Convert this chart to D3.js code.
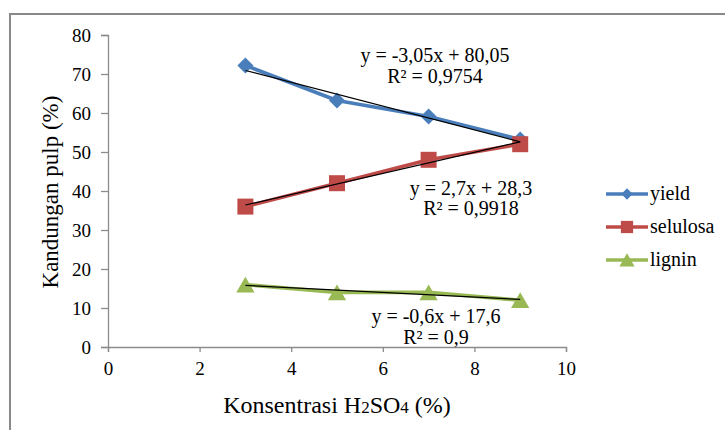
<!DOCTYPE html>
<html><head><meta charset="utf-8">
<script src="https://cdn.jsdelivr.net/npm/d3@7"></script>
<style>body{margin:0;background:#fff}svg{display:block}text{font-family:"Liberation Serif","Times New Roman",serif}</style>
</head><body><svg id="c" width="725" height="430"></svg>
<script>
const xValues = [3, 5, 7, 9];
const yieldValues = [72.2, 63.2, 59.1, 53.2];
const selulosaValues = [36, 42, 48, 52];
const ligninValues = [16, 14, 14, 12];
const seriesNames = ["yield", "selulosa", "lignin"];
const trendSlopes = [-3.05, 2.7, -0.6];
const trendIntercepts = [80.05, 28.3, 17.6];
const equationLabels = ["y = -3,05x + 80,05", "y = 2,7x + 28,3", "y = -0,6x + 17,6"];
const r2Labels = ["R² = 0,9754", "R² = 0,9918", "R² = 0,9"];
const xTicks = [0, 2, 4, 6, 8, 10];
const yTicks = [0, 10, 20, 30, 40, 50, 60, 70, 80];

const svg = d3.select("#c");
const font = "Liberation Serif, Times New Roman, serif";
const colors = ["#4A7EBB", "#BE4B48", "#98B954"];
const values = [yieldValues, selulosaValues, ligninValues];

svg.append("rect").attr("x", 10).attr("y", 14).attr("width", 730).attr("height", 440)
  .attr("fill", "none").attr("stroke", "#898989").attr("stroke-width", 2);

const x = d3.scaleLinear().domain([0, 10]).range([108, 566]);
const y = d3.scaleLinear().domain([0, 80]).range([347, 35]);

const xa = svg.append("g").attr("transform", `translate(0,${y(0)})`)
  .call(d3.axisBottom(x).tickValues(xTicks).tickSize(5).tickPadding(10));
const ya = svg.append("g").attr("transform", `translate(${x(0)},0)`)
  .call(d3.axisLeft(y).tickValues(yTicks).tickSize(7).tickPadding(10));
[xa, ya].forEach(a => {
  a.attr("font-family", null);
  a.select(".domain").attr("stroke", "#8c8c8c").attr("stroke-width", 1.3);
  a.selectAll(".tick line").attr("stroke", "#8c8c8c").attr("stroke-width", 1.3);
  a.selectAll(".tick text").style("font-family", font).style("font-size", "19px").attr("fill", "#000");
});

const line = d3.line().x((d, i) => x(xValues[i])).y(d => y(d));
const markerSym = [d3.symbolSquare, d3.symbolSquare, d3.symbolTriangle];
const markerSize = [128, 256, 145];
const markerTf = [" rotate(45)", "", " translate(0,2.6)"];
const legendSize = [64, 150, 100];
const legendTf = [" rotate(45)", "", " translate(0,2)"];

values.forEach((vals, s) => {
  svg.append("path").datum(vals).attr("d", line).attr("fill", "none")
    .attr("stroke", colors[s]).attr("stroke-width", 3.6).attr("stroke-linejoin", "round");
  svg.selectAll(null).data(vals).enter().append("path")
    .attr("d", d3.symbol().type(markerSym[s]).size(markerSize[s]))
    .attr("transform", (d, i) => `translate(${x(xValues[i])},${y(d)})${markerTf[s]}`)
    .attr("fill", colors[s]);
});

values.forEach((vals, s) => {
  const x0 = d3.min(xValues), x1 = d3.max(xValues);
  svg.append("line")
    .attr("x1", x(x0)).attr("y1", y(trendSlopes[s] * x0 + trendIntercepts[s]))
    .attr("x2", x(x1)).attr("y2", y(trendSlopes[s] * x1 + trendIntercepts[s]))
    .attr("stroke", "#000").attr("stroke-width", 1.2);
});

const eqPos = [[435, 62, 83], [471, 195, 215], [436, 323, 344]];
eqPos.forEach((p, s) => {
  svg.append("text").attr("x", p[0]).attr("y", p[1]).attr("text-anchor", "middle")
    .style("font-family", font).style("font-size", "20px").text(equationLabels[s]);
  svg.append("text").attr("x", p[0]).attr("y", p[2]).attr("text-anchor", "middle")
    .style("font-family", font).style("font-size", "20px").text(r2Labels[s]);
});

const legY = [194, 227, 260];
seriesNames.forEach((n, s) => {
  const g = svg.append("g");
  g.append("line").attr("x1", 606).attr("x2", 648).attr("y1", legY[s]).attr("y2", legY[s])
    .attr("stroke", colors[s]).attr("stroke-width", 3.5);
  g.append("path").attr("d", d3.symbol().type(markerSym[s]).size(legendSize[s]))
    .attr("transform", `translate(627,${legY[s]})${legendTf[s]}`).attr("fill", colors[s]);
  g.append("text").attr("x", 650).attr("y", legY[s] + 6)
    .style("font-family", font).style("font-size", "20px").text(n);
});

svg.append("text").attr("transform", "translate(58,192) rotate(-90)").attr("text-anchor", "middle")
  .style("font-family", font).style("font-size", "23px").text("Kandungan pulp (%)");
const xt = svg.append("text").attr("x", 337).attr("y", 413).attr("text-anchor", "middle")
  .style("font-family", font).style("font-size", "24px");
xt.append("tspan").text("Konsentrasi H");
xt.append("tspan").style("font-size", "17px").text("2");
xt.append("tspan").text("SO");
xt.append("tspan").style("font-size", "17px").text("4");
xt.append("tspan").text(" (%)");
</script></body></html>
